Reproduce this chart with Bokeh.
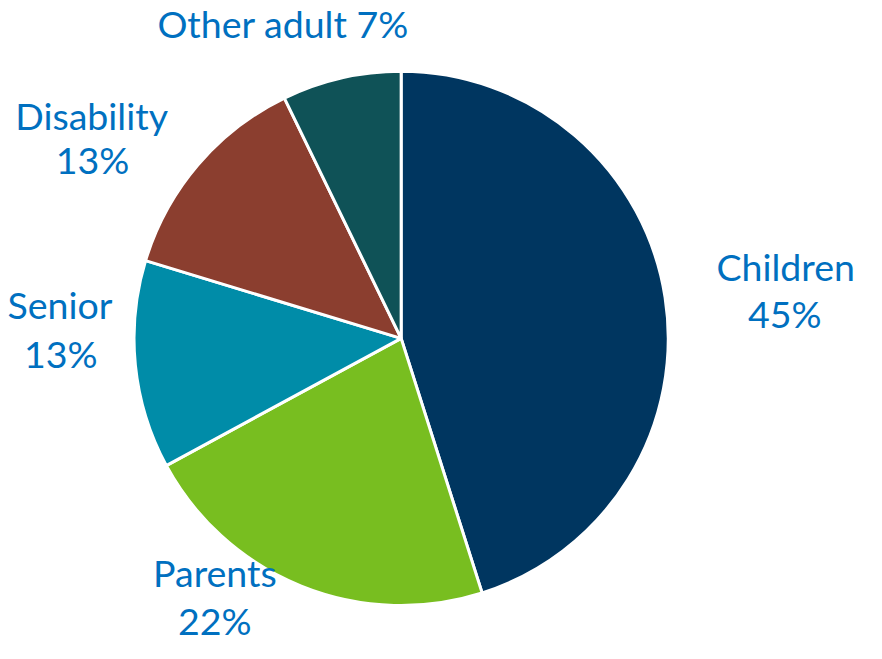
import math
from bokeh.plotting import figure
from bokeh.models import Range1d, ColumnDataSource
from bokeh.core.properties import value
from bokeh.embed import file_html
from bokeh.resources import INLINE

# ---- data ----
categories = ["Children", "Parents", "Senior", "Disability", "Other adult"]
shares = [45.1, 22.0, 12.6, 13.1, 7.2]
colors = ["#003660", "#78BE20", "#008CA8", "#8B3E2F", "#0F5257"]

# ---- layout: data coordinates are reference-image pixels (882 x 659) ----
RW, RH = 882, 659
W, H = 860, 643
FONT_REF = 39.0                       # label font size in reference px
top, bottom = -6.5, 661.5             # vertical extent (ref px) incl. text boxes
S = H / (bottom - top)                # screen px per reference px
xw = W / S
xpad = (xw - RW) / 2
cx, cy, r = 410.5, RH - 344.5, 277.5

p = figure(width=W, height=H, output_backend="svg", toolbar_location=None,
           x_range=Range1d(-xpad, RW + xpad),
           y_range=Range1d(RH - bottom, RH - top), min_border=0)
p.axis.visible = False
p.grid.visible = False
p.outline_line_color = None
p.background_fill_color = "white"

total = sum(shares)
starts, ends = [], []
acc = 0.0
for s in shares:
    a0 = math.pi / 2 - 2 * math.pi * acc / total
    acc += s
    a1 = math.pi / 2 - 2 * math.pi * acc / total
    starts.append(a0)
    ends.append(a1)

src = ColumnDataSource(dict(cat=categories, share=shares, color=colors,
                            start=starts, end=ends))
p.wedge(x=cx, y=cy, radius=r, start_angle="start", end_angle="end",
        direction="clock", fill_color="color", line_color="white",
        line_width=3, source=src)

# label positions (reference px): (center x, cap-center y) for each text line
label_pos = {
    "Children": [(810, 272), (809, 321)],
    "Parents": [(217, 590), (217, 640)],
    "Senior": [(56, 311), (57, 362)],
    "Disability": [(89, 115), (90, 161)],
    "Other adult": [(288, 19)],
}
tx, ty, tt = [], [], []
for c, s in zip(categories, shares):
    pos = label_pos[c]
    pct = f"{int(round(s))}%"
    lines = [f"{c} {pct}"] if len(pos) == 1 else [c, pct]
    for (x, y), t in zip(pos, lines):
        tx.append(x)
        ty.append(RH - (y - 2))
        tt.append(t)

p.text(x=tx, y=ty, text=tt, text_font=value("Lato"),
       text_font_size=f"{FONT_REF * S:.1f}px",
       text_color="#0070C0", text_align="center", text_baseline="middle")

open("out.html", "w").write(file_html(p, INLINE))
